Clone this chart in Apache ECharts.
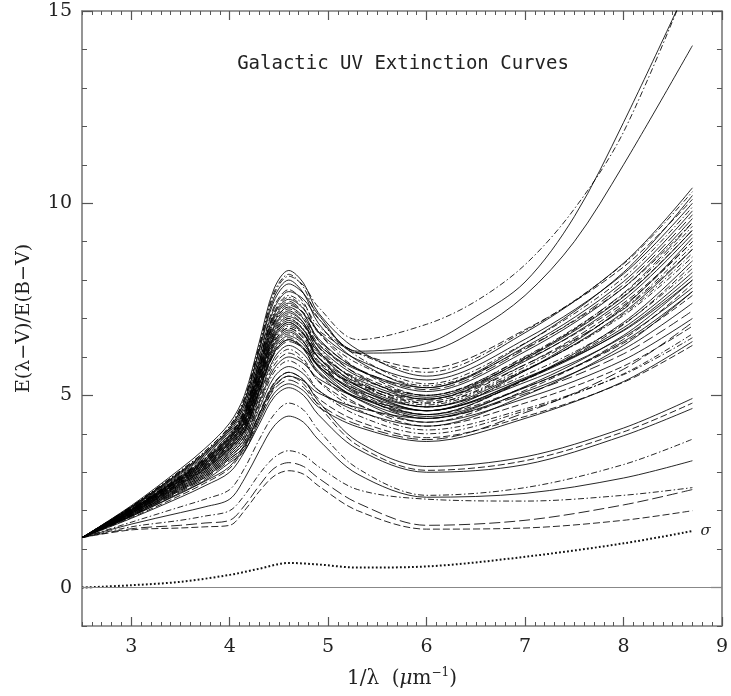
<!DOCTYPE html>
<html><head><meta charset="utf-8">
<script src="https://cdn.jsdelivr.net/npm/echarts@6.0.0/dist/echarts.min.js"></script>
<style>html,body{margin:0;padding:0;background:#fff}#c{width:731px;height:696px}</style>
</head><body><div id="c"></div><script>
// sample abscissae (1/lambda, micron^-1) at which curve values were read
const xs = [2.5, 3.0, 3.5, 3.75, 4.0, 4.15, 4.3, 4.45, 4.6, 4.75, 4.9, 5.3, 6.0, 7.0, 8.0, 8.7];
const xsHigh = [2.5, 3.0, 3.5, 3.75, 4.0, 4.15, 4.3, 4.45, 4.6, 4.75, 4.9, 5.3, 6.0, 6.5, 7.0, 7.5, 8.0, 8.7];

// main bundle of extinction curves
const bundleCurves = [
  [1.3, 2.13, 3.09, 3.62, 4.28, 5.00, 6.38, 7.77, 8.25, 7.92, 7.15, 6.19, 5.5, 6.63, 8.44, 10.4],
  [1.3, 2.11, 3.04, 3.55, 4.20, 4.92, 6.29, 7.68, 8.15, 7.81, 7.01, 6.01, 5.3, 6.36, 8.06, 9.9],
  [1.3, 2.10, 3.01, 3.51, 4.15, 4.85, 6.19, 7.54, 8.0, 7.66, 6.88, 5.9, 5.2, 6.35, 8.2, 10.2],
  [1.3, 2.08, 2.98, 3.47, 4.10, 4.75, 6.03, 7.31, 7.75, 7.42, 6.65, 5.69, 5.0, 5.99, 7.58, 9.3],
  [1.3, 2.07, 2.95, 3.43, 4.05, 4.66, 5.88, 7.09, 7.5, 7.25, 6.66, 5.93, 5.4, 6.46, 8.16, 10.0],
  [1.3, 2.06, 2.92, 3.39, 4.00, 4.61, 5.83, 7.04, 7.45, 7.14, 6.43, 5.54, 4.9, 5.8, 7.24, 8.8],
  [1.3, 2.04, 2.89, 3.35, 3.95, 4.56, 5.78, 6.99, 7.4, 7.12, 6.48, 5.68, 5.1, 6.14, 7.8, 9.6],
  [1.3, 2.04, 2.89, 3.35, 3.95, 4.54, 5.73, 6.90, 7.3, 6.99, 6.26, 5.35, 4.7, 5.53, 6.86, 8.3],
  [1.3, 2.03, 2.86, 3.31, 3.90, 4.49, 5.68, 6.85, 7.25, 6.98, 6.35, 5.56, 5.0, 5.92, 7.4, 9.0],
  [1.3, 2.03, 2.86, 3.31, 3.90, 4.48, 5.65, 6.80, 7.2, 6.89, 6.16, 5.25, 4.6, 5.34, 6.52, 7.8],
  [1.3, 2.01, 2.83, 3.27, 3.85, 4.41, 5.57, 6.71, 7.1, 6.82, 6.18, 5.38, 4.8, 5.67, 7.08, 8.6],
  [1.3, 2.01, 2.83, 3.27, 3.85, 4.41, 5.55, 6.67, 7.05, 6.83, 6.31, 5.66, 5.2, 6.26, 7.96, 9.8],
  [1.3, 2.0, 2.8, 3.23, 3.80, 4.36, 5.50, 6.62, 7.0, 6.7, 6.0, 5.13, 4.5, 5.21, 6.36, 7.6],
  [1.3, 2.0, 2.8, 3.23, 3.80, 4.34, 5.47, 6.57, 6.95, 6.70, 6.13, 5.41, 4.9, 5.89, 7.48, 9.2],
  [1.3, 1.99, 2.77, 3.19, 3.75, 4.29, 5.42, 6.52, 6.9, 6.6, 5.9, 5.03, 4.4, 5.04, 6.08, 7.2],
  [1.3, 1.99, 2.77, 3.19, 3.75, 4.28, 5.39, 6.48, 6.85, 6.59, 5.99, 5.24, 4.7, 5.46, 6.68, 8.0],
  [1.3, 1.97, 2.74, 3.15, 3.70, 4.23, 5.34, 6.43, 6.8, 6.58, 6.08, 5.45, 5.0, 6.01, 7.64, 9.4],
  [1.3, 1.97, 2.74, 3.15, 3.70, 4.22, 5.32, 6.38, 6.75, 6.48, 5.85, 5.06, 4.5, 5.4, 6.84, 8.4],
  [1.3, 1.96, 2.71, 3.11, 3.65, 4.17, 5.27, 6.33, 6.7, 6.41, 5.74, 4.9, 4.3, 4.92, 5.92, 7.0],
  [1.3, 1.96, 2.71, 3.11, 3.65, 4.15, 5.21, 6.25, 6.6, 6.38, 5.88, 5.25, 4.8, 5.74, 7.26, 8.9],
  [1.3, 1.94, 2.68, 3.07, 3.60, 4.10, 5.16, 6.20, 6.55, 6.32, 5.77, 5.09, 4.6, 5.43, 6.76, 8.2],
  [1.3, 1.94, 2.68, 3.07, 3.60, 4.09, 5.14, 6.15, 6.5, 6.22, 5.58, 4.78, 4.2, 4.8, 5.76, 6.8],
  [1.3, 1.93, 2.65, 3.03, 3.55, 4.04, 5.09, 6.10, 6.45, 6.20, 5.63, 4.91, 4.4, 5.09, 6.2, 7.4],
  [1.3, 1.93, 2.65, 3.03, 3.55, 4.03, 5.06, 6.06, 6.4, 6.22, 5.8, 5.28, 4.9, 5.96, 7.66, 9.5],
  [1.3, 1.92, 2.62, 2.99, 3.50, 3.96, 4.98, 5.96, 6.3, 6.08, 5.58, 4.95, 4.5, 5.42, 6.9, 8.5],
  [1.3, 1.92, 2.62, 2.99, 3.50, 3.94, 4.93, 5.88, 6.2, 5.95, 5.36, 4.63, 4.1, 4.65, 5.54, 6.5],
  [1.3, 1.90, 2.59, 2.95, 3.45, 3.88, 4.85, 5.78, 6.1, 5.88, 5.38, 4.75, 4.3, 5.13, 6.46, 7.9],
  [1.3, 1.90, 2.59, 2.95, 3.45, 3.86, 4.80, 5.69, 6.0, 5.83, 5.44, 4.95, 4.6, 5.64, 7.3, 9.1],
  [1.3, 1.89, 2.56, 2.91, 3.40, 3.80, 4.73, 5.6, 5.9, 5.67, 5.14, 4.48, 4.0, 4.6, 5.56, 6.6],
  [1.3, 1.89, 2.56, 2.91, 3.40, 3.77, 4.65, 5.47, 5.75, 5.56, 5.13, 4.59, 4.2, 5.0, 6.3, 7.7],
  [1.3, 1.87, 2.53, 2.87, 3.35, 3.69, 4.54, 5.33, 5.6, 5.40, 4.92, 4.33, 3.9, 4.45, 5.34, 6.3],
  [1.3, 1.87, 2.53, 2.87, 3.35, 3.67, 4.49, 5.24, 5.5, 5.37, 5.06, 4.68, 4.4, 5.23, 6.56, 8.0],
  [1.3, 1.86, 2.5, 2.83, 3.30, 3.61, 4.41, 5.15, 5.4, 5.21, 4.78, 4.24, 3.85, 4.55, 5.68, 6.9],
  [1.3, 1.85, 2.47, 2.79, 3.25, 3.55, 4.34, 5.05, 5.3, 5.12, 4.7, 4.18, 3.8, 4.4, 5.36, 6.4],
  [1.3, 2.04, 2.89, 3.35, 3.95, 4.60, 5.88, 7.16, 7.6, 7.36, 6.8, 6.1, 5.6, 6.68, 8.42, 10.3],
  [1.3, 2.01, 2.83, 3.27, 3.85, 4.47, 5.71, 6.93, 7.35, 7.15, 6.69, 6.11, 5.7, 6.71, 8.34, 10.1],
  [1.3, 2.02, 2.85, 3.30, 3.88, 4.45, 5.61, 6.76, 7.15, 6.89, 6.27, 5.5, 4.95, 5.95, 7.56, 9.3],
  [1.3, 2.01, 2.81, 3.25, 3.82, 4.37, 5.51, 6.62, 7.0, 6.73, 6.1, 5.31, 4.75, 5.66, 7.12, 8.7],
  [1.3, 1.99, 2.79, 3.22, 3.78, 4.32, 5.43, 6.53, 6.9, 6.62, 5.98, 5.18, 4.6, 5.41, 6.7, 8.1],
  [1.3, 1.98, 2.75, 3.17, 3.72, 4.24, 5.33, 6.39, 6.75, 6.52, 5.99, 5.33, 4.85, 5.8, 7.34, 9.0],
  [1.3, 1.97, 2.73, 3.14, 3.68, 4.18, 5.25, 6.29, 6.65, 6.39, 5.77, 5.0, 4.45, 5.2, 6.4, 7.7],
  [1.3, 2.03, 2.87, 3.33, 3.92, 4.51, 5.71, 6.89, 7.3, 7.04, 6.44, 5.69, 5.15, 6.2, 7.88, 9.7],
  [1.3, 1.95, 2.69, 3.09, 3.62, 4.09, 5.12, 6.11, 6.45, 6.24, 5.75, 5.14, 4.7, 5.64, 7.16, 8.8],
  [1.3, 2.05, 2.91, 3.38, 3.98, 4.61, 5.87, 7.12, 7.55, 7.27, 6.63, 5.83, 5.25, 6.23, 7.8, 9.5]
];

// three curves with very steep far-UV rise (read on xsHigh)
const highCurves = [
  [1.3, 2.11, 3.04, 3.55, 4.2, 4.91, 6.27, 7.62, 8.1, 7.86, 7.3, 6.45, 6.85, 7.45, 8.4, 9.85, 11.85, 16.0],
  [1.3, 2.08, 2.98, 3.47, 4.1, 4.74, 6.0, 7.25, 7.7, 7.5, 7.0, 6.15, 6.35, 7.05, 7.95, 9.65, 12.1, 15.9],
  [1.3, 2.10, 3.01, 3.51, 4.15, 4.83, 6.15, 7.45, 7.9, 7.65, 7.1, 6.1, 6.15, 6.7, 7.6, 9.0, 11.0, 14.1]
];

// low curves beneath the bundle
const lowCurves = [
  [1.3, 1.50, 1.55, 1.58, 1.62, 2.0, 2.5, 2.9, 3.04, 2.95, 2.65, 2.0, 1.52, 1.55, 1.75, 2.0],
  [1.3, 1.53, 1.62, 1.68, 1.75, 2.13, 2.65, 3.1, 3.25, 3.15, 2.85, 2.2, 1.62, 1.75, 2.15, 2.55],
  [1.3, 1.58, 1.75, 1.86, 2.0, 2.40, 2.95, 3.38, 3.56, 3.45, 3.15, 2.55, 2.3, 2.25, 2.4, 2.6],
  [1.3, 1.65, 1.95, 2.1, 2.3, 2.83, 3.55, 4.2, 4.46, 4.3, 3.85, 2.95, 2.35, 2.45, 2.85, 3.3],
  [1.3, 1.7, 2.1, 2.3, 2.55, 3.1, 3.85, 4.5, 4.8, 4.62, 4.1, 3.1, 2.4, 2.6, 3.2, 3.86],
  [1.3, 1.8, 2.35, 2.65, 3.0, 3.53, 4.25, 4.95, 5.2, 5.0, 4.5, 3.6, 3.0, 3.2, 3.95, 4.66],
  [1.3, 1.82, 2.4, 2.72, 3.1, 3.64, 4.4, 5.2, 5.5, 5.3, 4.75, 3.7, 3.05, 3.3, 4.05, 4.8],
  [1.3, 1.85, 2.45, 2.77, 3.15, 3.72, 4.5, 5.3, 5.6, 5.4, 4.85, 3.8, 3.15, 3.4, 4.15, 4.92]
];

// sigma (dotted) curve
const sigmaX = [2.5, 3.0, 3.5, 4.0, 4.3, 4.6, 4.9, 5.3, 6.0, 7.0, 8.0, 8.7];
const sigmaY = [0, 0.06, 0.15, 0.33, 0.49, 0.64, 0.6, 0.52, 0.55, 0.8, 1.15, 1.47];

// axis tick labels
const xMajorTicks = [3, 4, 5, 6, 7, 8, 9];
const yMajorTicks = [0, 5, 10, 15];

const dash = {
  solid: 'solid',
  dashed: [7, 3],
  dashdot: [6, 2.5, 1.5, 2.5],
  longdash: [11, 4]
};
const bundleStyleCycle = ['solid', 'dashdot', 'solid', 'dashed', 'solid', 'longdash', 'solid', 'dashdot', 'dashed'];
const highStyles = ['dashdot', 'solid', 'solid'];
const lowStyles = ['dashed', 'longdash', 'dashdot', 'solid', 'dashdot', 'solid', 'dashed', 'solid'];

function curveSeries(xArr, ys, style) {
  return {
    type: 'line',
    data: xArr.map((x, i) => [x, ys[i]]),
    symbol: 'none',
    smooth: 0.33,
    silent: true,
    clip: true,
    lineStyle: { color: '#000', width: 0.85, type: dash[style], opacity: 1 },
    z: 2
  };
}

const series = [];
bundleCurves.forEach((c, i) => series.push(curveSeries(xs, c, bundleStyleCycle[i % bundleStyleCycle.length])));
highCurves.forEach((c, i) => series.push(curveSeries(xsHigh, c, highStyles[i])));
lowCurves.forEach((c, i) => series.push(curveSeries(xs, c, lowStyles[i])));
series.push({
  type: 'line',
  data: sigmaX.map((x, i) => [x, sigmaY[i]]),
  symbol: 'none',
  smooth: 0.33,
  silent: true,
  lineStyle: { color: '#111', width: 2, type: [1.8, 2.2], cap: 'butt' },
  endLabel: { show: true, formatter: 'σ', distance: 8, fontFamily: 'DejaVu Serif', fontStyle: 'italic', fontSize: 15, color: '#222' },
  markLine: {
    silent: true, symbol: ['none', 'none'], label: { show: false },
    lineStyle: { color: '#888', width: 1, type: 'solid' },
    data: [{ yAxis: 0 }]
  },
  z: 3
});

const serif = { fontFamily: 'DejaVu Serif', fontSize: 19, color: '#222' };
const lineCol = '#7a7a7a';
const tickCol = '#555';
const isInt = v => Math.abs(v - Math.round(v)) < 1e-6;

function xAxisMinor(pos, labels) {
  return {
    type: 'value', min: 2.5, max: 9, interval: 0.5, position: pos,
    axisLine: { show: true, onZero: false, lineStyle: { color: lineCol, width: 1.6 } },
    axisTick: { show: true, inside: true, length: 4, lineStyle: { color: tickCol, width: 1 } },
    minorTick: { show: true, splitNumber: 5, length: 4, lineStyle: { color: tickCol, width: 1 } },
    axisLabel: labels ? Object.assign({ show: true, interval: 0, margin: 12, formatter: v => isInt(v) ? String(Math.round(v)) : '' }, serif) : { show: false },
    splitLine: { show: false },
    minorSplitLine: { show: false }
  };
}
function xAxisMajor(pos) {
  return {
    type: 'value', min: 2.5, max: 9, position: pos,
    axisLine: { show: false, onZero: false },
    axisTick: { show: true, inside: true, length: 9, customValues: xMajorTicks, lineStyle: { color: tickCol, width: 1.2 } },
    axisLabel: { show: false },
    splitLine: { show: false }
  };
}
function yAxisMinor(pos, labels) {
  return {
    type: 'value', min: -1, max: 15, interval: 1, position: pos,
    axisLine: { show: true, onZero: false, lineStyle: { color: lineCol, width: 1.6 } },
    axisTick: { show: true, inside: true, length: 5, lineStyle: { color: tickCol, width: 1 } },
    axisLabel: labels ? Object.assign({ show: true, interval: 0, margin: 10, formatter: v => (isInt(v) && Math.round(v) % 5 === 0) ? String(Math.round(v)) : '' }, serif) : { show: false },
    splitLine: { show: false }
  };
}
function yAxisMajor(pos) {
  return {
    type: 'value', min: -1, max: 15, position: pos,
    axisLine: { show: false, onZero: false },
    axisTick: { show: true, inside: true, length: 11, customValues: yMajorTicks, lineStyle: { color: tickCol, width: 1.2 } },
    axisLabel: { show: false },
    splitLine: { show: false }
  };
}

const xMain = xAxisMinor('bottom', true);
xMain.name = '1/λ  ({it|μ}m{sup|−1})';
xMain.nameLocation = 'middle';
xMain.nameGap = 41;
xMain.nameTextStyle = {
  fontFamily: 'DejaVu Serif', fontSize: 20, color: '#222', lineHeight: 24,
  rich: {
    it: { fontFamily: 'DejaVu Serif', fontStyle: 'italic', fontSize: 20, color: '#222' },
    sup: { fontFamily: 'DejaVu Serif', fontSize: 12, color: '#222', verticalAlign: 'top', lineHeight: 12 }
  }
};
const yMain = yAxisMinor('left', true);
yMain.name = 'E(λ−V)/E(B−V)';
yMain.nameLocation = 'middle';
yMain.nameGap = 48;
yMain.nameRotate = 90;
yMain.nameTextStyle = { fontFamily: 'DejaVu Serif', fontSize: 19, color: '#222' };

const option = {
  animation: false,
  backgroundColor: '#fff',
  grid: { left: 82, right: 5, top: 11, bottom: 63, containLabel: false },
  xAxis: [xMain, xAxisMajor('bottom'), xAxisMinor('top', false), xAxisMajor('top')],
  yAxis: [yMain, yAxisMajor('left'), yAxisMinor('right', false), yAxisMajor('right')],
  graphic: [{
    type: 'text', x: 403, y: 64, silent: true,
    style: {
      text: 'Galactic UV Extinction Curves', fontFamily: 'DejaVu Sans Mono', fontSize: 19,
      fill: '#222', align: 'center', verticalAlign: 'middle', textAlign: 'center', textVerticalAlign: 'middle'
    }
  }],
  series: series
};

const chart = echarts.init(document.getElementById('c'), null, { renderer: 'canvas' });
chart.setOption(option);
</script></body></html>
